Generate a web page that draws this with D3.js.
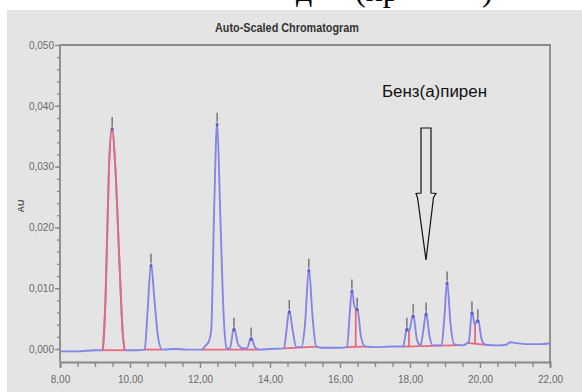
<!DOCTYPE html>
<html>
<head>
<meta charset="utf-8">
<script src="https://cdn.jsdelivr.net/npm/d3@7"></script>
<style>
  html, body { margin: 0; padding: 0; background: #fff; }
  svg { display: block; }
</style>
</head>
<body>
<figure id="chrom" style="margin:0"></figure>
<script>
// retention time (min) and absorbance (AU)
const traceTime = [8.00, 8.50, 9.00, 9.22, 9.30, 9.40, 9.49, 9.58, 9.70, 9.80, 9.85,
  10.20, 10.42, 10.50, 10.60, 10.70, 10.80, 10.92, 11.30, 11.60, 12.05, 12.15, 12.25,
  12.32, 12.40, 12.49, 12.58, 12.68, 12.76, 12.85, 12.97, 13.10, 13.25, 13.35, 13.46,
  13.58, 13.70, 14.00, 14.40, 14.47, 14.55, 14.65, 14.75, 14.90, 15.00, 15.11, 15.22,
  15.32, 15.50, 16.00, 16.20, 16.28, 16.34, 16.42, 16.49, 16.60, 16.72, 17.00, 17.50,
  17.80, 17.86, 17.91, 17.97, 18.09, 18.20, 18.30, 18.38, 18.46, 18.56, 18.66, 18.90,
  18.98, 19.06, 19.16, 19.26, 19.50, 19.68, 19.77, 19.85, 19.94, 20.05, 20.15, 20.50,
  20.75, 20.85, 21.00, 21.30, 21.70, 22.00];
const traceAU = [-0.0004, -0.0004, -0.0002, -0.0002, 0.0080, 0.0300, 0.0365, 0.0300, 0.0140, 0.0020, -0.0002,
  -0.0002, -0.0001, 0.0060, 0.0140, 0.0080, 0.0020, -0.0001, 0.0000, -0.0001, -0.0001, 0.0005, 0.0012,
  0.0030, 0.0220, 0.0372, 0.0220, 0.0050, 0.0002, 0.0000, 0.0035, 0.0006, 0.0001, 0.0002, 0.0019,
  0.0002, -0.0001, 0.0000, 0.0001, 0.0030, 0.0064, 0.0030, 0.0003, 0.0003, 0.0040, 0.0132, 0.0050,
  0.0004, 0.0002, 0.0002, 0.0003, 0.0060, 0.0098, 0.0068, 0.0068, 0.0020, 0.0004, 0.0003, 0.0004,
  0.0004, 0.0020, 0.0035, 0.0028, 0.0057, 0.0015, 0.0006, 0.0030, 0.0060, 0.0020, 0.0006, 0.0006,
  0.0050, 0.0111, 0.0040, 0.0008, 0.0006, 0.0012, 0.0062, 0.0040, 0.0049, 0.0015, 0.0007, 0.0006,
  0.0007, 0.0011, 0.0010, 0.0008, 0.0008, 0.0009];

// apex times of detected peaks
const peakTimes = [9.49, 10.60, 12.49, 12.97, 13.46, 14.55, 15.11, 16.34, 16.49,
  17.91, 18.09, 18.46, 19.06, 19.77, 19.94];

// integration baselines (start / end) and drop lines between fused peaks
const intStart = [9.22, 10.42, 12.05, 14.40, 16.20, 17.80, 19.62];
const intEnd = [9.85, 10.92, 13.70, 15.34, 16.75, 19.45, 20.18];
const dropTimes = [16.45, 17.97, 19.86];

// the highlighted (integrated) first peak
const redPeak = [9.22, 9.85];

const xTicks = [8, 10, 12, 14, 16, 18, 20, 22];
const yTicks = [0, 0.01, 0.02, 0.03, 0.04, 0.05];

const width = 582;
const height = 392;

const svg = d3.select("figure#chrom")
  .append("svg")
  .attr("width", width)
  .attr("height", height);

// grey panel
svg.append("rect")
  .attr("x", 7).attr("y", 10)
  .attr("width", width - 7).attr("height", height - 10)
  .attr("fill", "#e4e4e4");

// cropped caption of the page above the picture
svg.append("text")
  .attr("y", 1)
  .style("font-family", "'Liberation Serif', 'Times New Roman', serif")
  .style("font-size", "32px")
  .attr("fill", "#000")
  .selectAll("tspan")
  .data([{t: "д", x: 296}, {t: "(пр", x: 355}, {t: ")", x: 482}])
  .enter().append("tspan")
  .attr("x", d => d.x)
  .text(d => d.t);

const x = d3.scaleLinear().domain([8, 22]).range([60, 550]);
const y = d3.scaleLinear().domain([-0.00214, 0.050]).range([362, 45]);

const axisColor = "#888";
const labelColor = "#6a6a6a";
const comma = f => s => f(s).replace(".", ",");

// title
svg.append("text")
  .attr("x", 287).attr("y", 32)
  .attr("text-anchor", "middle")
  .attr("textLength", 144)
  .attr("lengthAdjust", "spacingAndGlyphs")
  .style("font-family", "'Liberation Sans Narrow', 'Liberation Sans', Arial, sans-serif")
  .style("font-size", "12px")
  .style("font-weight", "bold")
  .attr("fill", "#333")
  .text("Auto-Scaled Chromatogram");

// minor ticks
svg.append("g")
  .attr("transform", "translate(0,362)")
  .call(d3.axisBottom(x).tickValues(d3.range(8, 22.01, 0.5)).tickSize(5).tickFormat(""))
  .call(g => g.select(".domain").remove())
  .call(g => g.selectAll("line").attr("stroke", axisColor).attr("stroke-width", 1.3));

svg.append("g")
  .attr("transform", "translate(60,0)")
  .call(d3.axisLeft(y).tickValues(d3.range(0, 0.0501, 0.002)).tickSize(3).tickFormat(""))
  .call(g => g.select(".domain").remove())
  .call(g => g.selectAll("line").attr("stroke", axisColor).attr("stroke-width", 1.3));

// major axes
const xAxis = svg.append("g")
  .attr("transform", "translate(0,362)")
  .call(d3.axisBottom(x).tickValues(xTicks).tickSize(6).tickPadding(8)
    .tickFormat(comma(d3.format(".2f"))));

const yAxis = svg.append("g")
  .attr("transform", "translate(60,0)")
  .call(d3.axisLeft(y).tickValues(yTicks).tickSize(5).tickPadding(1)
    .tickFormat(comma(d3.format(".3f"))));

[xAxis, yAxis].forEach(g => {
  g.select(".domain").attr("stroke", axisColor).attr("stroke-width", 1.8);
  g.selectAll(".tick line").attr("stroke", axisColor).attr("stroke-width", 1.3);
  g.selectAll(".tick text")
    .attr("fill", labelColor)
    .style("font-family", "'Liberation Sans Narrow', 'Liberation Sans', Arial, sans-serif")
    .style("font-size", "10px");
});
yAxis.select(".domain").attr("d", "M0,45V362");

// top and right frame
svg.append("path")
  .attr("d", `M${x(8)},${y(0.05)}H${x(22)}V362`)
  .attr("fill", "none")
  .attr("stroke", axisColor)
  .attr("stroke-width", 1.8);

// y axis title
svg.append("text")
  .attr("transform", "translate(24,206) rotate(-90)")
  .attr("text-anchor", "middle")
  .style("font-family", "'Liberation Sans', Arial, sans-serif")
  .style("font-size", "9px")
  .style("font-weight", "bold")
  .attr("fill", "#555")
  .text("AU");

const trace = traceTime.map((t, i) => ({t: t, v: traceAU[i]}));
const valueAt = t => {
  const i = d3.bisector(d => d.t).left(trace, t);
  if (i <= 0) return trace[0].v;
  if (i >= trace.length) return trace[trace.length - 1].v;
  const a = trace[i - 1], b = trace[i];
  return a.v + (b.v - a.v) * (t - a.t) / (b.t - a.t);
};

const line = d3.line()
  .x(d => x(d.t))
  .y(d => y(d.v))
  .curve(d3.curveMonotoneX);

const red = "#e8687e";
const blue = "#8585e8";

// integration baselines
svg.selectAll("line.base")
  .data(intStart.map((s, i) => [s, intEnd[i]]))
  .enter()
  .append("line")
  .attr("class", "base")
  .attr("x1", d => x(d[0])).attr("y1", d => y(valueAt(d[0])))
  .attr("x2", d => x(d[1])).attr("y2", d => y(valueAt(d[1])))
  .attr("stroke", red)
  .attr("stroke-width", 1.8);

// drop lines
svg.selectAll("line.drop")
  .data(dropTimes)
  .enter()
  .append("line")
  .attr("class", "drop")
  .attr("x1", d => x(d)).attr("x2", d => x(d))
  .attr("y1", d => {
    const k = intStart.findIndex((s, i) => d > s && d < intEnd[i]);
    const s = intStart[k], e = intEnd[k];
    const b = valueAt(s) + (valueAt(e) - valueAt(s)) * (d - s) / (e - s);
    return y(b);
  })
  .attr("y2", d => y(valueAt(d)))
  .attr("stroke", red)
  .attr("stroke-width", 1.8);

// chromatogram trace
svg.append("path")
  .datum(trace)
  .attr("d", line)
  .attr("fill", "none")
  .attr("stroke", blue)
  .attr("stroke-width", 1.9)
  .attr("stroke-linejoin", "round");

svg.append("path")
  .datum(trace.filter(d => d.t >= redPeak[0] && d.t <= redPeak[1]))
  .attr("d", line)
  .attr("fill", "none")
  .attr("stroke", red)
  .attr("stroke-width", 1.9);

// apex markers
svg.selectAll("line.apex")
  .data(peakTimes)
  .enter()
  .append("line")
  .attr("class", "apex")
  .attr("x1", d => x(d)).attr("x2", d => x(d))
  .attr("y1", d => y(valueAt(d)) - 1)
  .attr("y2", d => y(valueAt(d)) - 10)
  .attr("stroke", "#666")
  .attr("stroke-width", 1.3);

svg.selectAll("circle.apex")
  .data(peakTimes)
  .enter()
  .append("circle")
  .attr("class", "apex")
  .attr("cx", d => x(d))
  .attr("cy", d => y(valueAt(d)) + 2)
  .attr("r", 1.7)
  .attr("fill", "#3c3ca8")
  .attr("opacity", 0.55);

// annotation
svg.append("text")
  .attr("x", 382).attr("y", 97)
  .attr("textLength", 105)
  .attr("lengthAdjust", "spacingAndGlyphs")
  .style("font-family", "'Liberation Sans', Arial, sans-serif")
  .style("font-size", "16px")
  .attr("fill", "#111")
  .text("Бенз(а)пирен");

svg.append("path")
  .attr("d", "M421,128H431V193L436,193.5L433.5,197.5L426,260L417.5,197.5L416,193.5L421,193Z")
  .attr("fill", "none")
  .attr("stroke", "#111")
  .attr("stroke-width", 1.2)
  .attr("stroke-linejoin", "miter");
</script>
</body>
</html>
